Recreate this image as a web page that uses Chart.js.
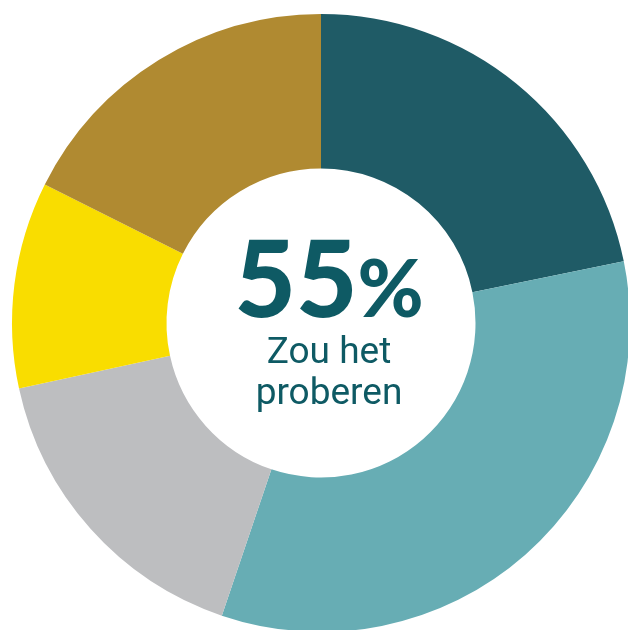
<!DOCTYPE html>
<html>
<head>
    <title>Zou het proberen</title>
    <script src="https://cdn.jsdelivr.net/npm/chart.js@4"></script>
    <style>
        html, body { margin: 0; padding: 0; background: #fff; overflow: hidden; }
        #wrap { position: relative; width: 628px; height: 630px; overflow: hidden; }
        #myChart { position: absolute; left: 0; top: 0; }
        .center { position: absolute; left: 179px; width: 300px; text-align: center; color: #0E5A64; }
        #big { top: 223px; font-family: Lato, sans-serif; font-size: 106px; line-height: 106px; font-weight: 900; white-space: nowrap; }
        #big span { font-size: 80px; }
        #small { top: 330px; font-family: Roboto, "Noto Sans", sans-serif; font-size: 37px; line-height: 41px; font-weight: 400; }
    </style>
</head>

<body>
<div id="wrap">
    <canvas id="myChart" width="640" height="640"></canvas>
    <div class="center" id="big">55<span>%</span></div>
    <div class="center" id="small">Zou het<br>proberen</div>
</div>

<script>
// segments clockwise from 12 o'clock
var labels = ['Categorie 1', 'Categorie 2', 'Categorie 3', 'Categorie 4', 'Categorie 5'];
var values = [21.8, 33.4, 16.4, 10.8, 17.6];
var colors = ['#1F5B66', '#67ADB4', '#BDBEC0', '#F9DD00', '#B08A31'];

var ctx = document.getElementById('myChart').getContext('2d');
var myChart = new Chart(ctx, {
    type: 'doughnut',
    data: {
        labels: labels,
        datasets: [{
            data: values,
            backgroundColor: colors,
            borderWidth: 0
        }]
    },
    options: {
        responsive: false,
        animation: false,
        devicePixelRatio: 1,
        cutout: '50%',
        layout: { padding: { left: 12, top: 14, right: 10, bottom: 8 } },
        plugins: {
            legend: { display: false },
            tooltip: { enabled: false }
        }
    }
});
</script>

</body>
</html>
